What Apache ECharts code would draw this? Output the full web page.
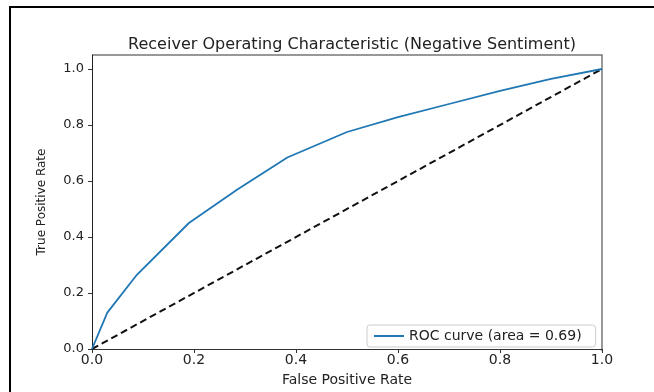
<!DOCTYPE html>
<html>
<head>
<meta charset="utf-8">
<script src="https://cdn.jsdelivr.net/npm/echarts@6/dist/echarts.min.js"></script>
<style>
  html, body { margin: 0; padding: 0; background: #fff; }
  #roc { width: 654px; height: 392px; }
</style>
</head>
<body>
<div id="roc"></div>
<script>
// ROC curve
const fprValues = [0, 0.03, 0.088, 0.19, 0.285, 0.383, 0.5, 0.6, 0.7, 0.8, 0.9, 1.0];
const tprValues = [0, 0.13, 0.265, 0.45, 0.57, 0.684, 0.775, 0.828, 0.875, 0.922, 0.965, 1.0];
// chance line
const chanceX = [0, 1];
const chanceY = [0, 1];
const tickValues = [0, 0.2, 0.4, 0.6, 0.8, 1.0];

const chart = echarts.init(document.getElementById('roc'));
const font = 'DejaVu Sans';

chart.setOption({
  animation: false,
  textStyle: { fontFamily: font },
  title: {
    text: 'Receiver Operating Characteristic (Negative Sentiment)',
    left: 347,
    top: 32,
    textAlign: 'center',
    textStyle: { fontSize: 16, fontWeight: 'normal', color: '#222', fontFamily: font }
  },
  grid: { left: 92, right: 52, top: 55, bottom: 41 },
  legend: {
    data: ['ROC curve (area = 0.69)'],
    left: 367,
    top: 325,
    itemWidth: 30,
    itemHeight: 2,
    itemGap: 8,
    padding: [4, 14, 4, 6],
    borderColor: '#ccc',
    borderWidth: 1,
    borderRadius: 3,
    textStyle: { fontSize: 14, color: '#222', fontFamily: font }
  },
  xAxis: {
    type: 'value',
    min: 0,
    max: 1,
    name: 'False Positive Rate',
    nameLocation: 'middle',
    nameGap: 24,
    nameTextStyle: { fontSize: 14, color: '#222' },
    axisLine: { onZero: false, lineStyle: { color: '#333', width: 1 } },
    axisTick: { show: true, length: 4, customValues: tickValues, lineStyle: { color: '#333' } },
    axisLabel: { customValues: tickValues, fontSize: 14, color: '#222', margin: 4,
      formatter: v => v.toFixed(1) },
    splitLine: { show: false }
  },
  yAxis: {
    type: 'value',
    min: 0,
    max: 1.05,
    name: 'True Positive Rate',
    nameLocation: 'middle',
    nameGap: 44,
    nameTextStyle: { fontSize: 12, color: '#222' },
    axisLine: { show: true, onZero: false, lineStyle: { color: '#222', width: 1 } },
    axisTick: { show: true, length: 4, customValues: tickValues, lineStyle: { color: '#333' } },
    axisLabel: { customValues: tickValues, fontSize: 13, color: '#222', margin: 8,
      formatter: v => v.toFixed(1) },
    splitLine: { show: false }
  },
  series: [
    {
      name: 'ROC curve (area = 0.69)',
      type: 'line',
      data: fprValues.map((x, i) => [x, tprValues[i]]),
      symbol: 'none',
      lineStyle: { color: '#1f77b4', width: 1.8 },
      itemStyle: { color: '#1f77b4' },
      z: 3
    },
    {
      name: 'chance',
      type: 'line',
      data: chanceX.map((x, i) => [x, chanceY[i]]),
      symbol: 'none',
      lineStyle: { color: '#111', width: 2, type: [7, 4] },
      z: 2
    }
  ],
  // outer frame of the picture and closed box round the plot
  graphic: [{
    type: 'rect',
    shape: { x: 10, y: 7, width: 700, height: 450 },
    style: { fill: 'none', stroke: '#000', lineWidth: 2 },
    silent: true
  }, {
    type: 'polyline',
    shape: { points: [[92, 55], [602, 55], [602, 351]] },
    style: { fill: 'none', stroke: '#777', lineWidth: 1.5 },
    silent: true
  }]
});
</script>
</body>
</html>
